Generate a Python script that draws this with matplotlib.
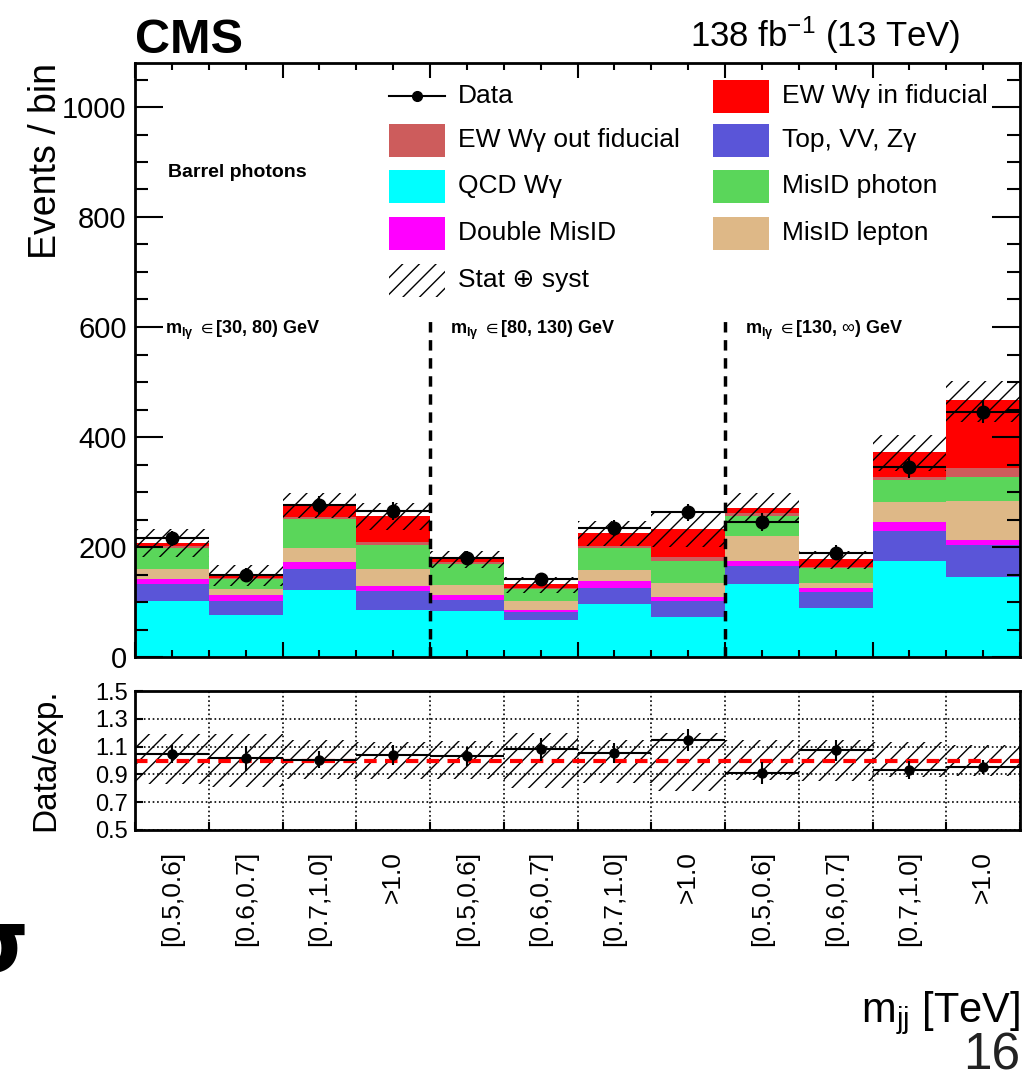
"""EW W-gamma m_jj distribution (barrel photons) with data/expectation ratio."""

import matplotlib
matplotlib.use("Agg")
import matplotlib.pyplot as plt
import numpy as np
from matplotlib.lines import Line2D
from matplotlib.patches import Rectangle
from matplotlib.ticker import MultipleLocator

plt.rcParams["font.family"] = ["Liberation Sans", "DejaVu Sans"]
plt.rcParams["mathtext.fontset"] = "custom"
plt.rcParams["mathtext.rm"] = "Liberation Sans"
plt.rcParams["mathtext.it"] = "Liberation Sans:italic"
plt.rcParams["mathtext.bf"] = "Liberation Sans:bold"
plt.rcParams["mathtext.fallback"] = "stix"
plt.rcParams["hatch.linewidth"] = 1.0

BIN_LABELS = ["[0.5,0.6]", "[0.6,0.7]", "[0.7,1.0]", ">1.0"] * 3
REGION_LABELS = [
    r"$\mathbf{m}_{\mathbf{l\gamma}}\ \in$[30, 80) GeV",
    r"$\mathbf{m}_{\mathbf{l\gamma}}\ \in$[80, 130) GeV",
    r"$\mathbf{m}_{\mathbf{l\gamma}}\ \in$[130, $\infty$) GeV",
]

# stacked backgrounds / signal, bottom to top
qcd_wg = [102, 77, 122, 86, 84, 67, 97, 73, 132, 90, 174, 145]
top_vv_zg = [31, 24, 38, 34, 20, 14, 29, 28, 34, 29, 55, 58]
double_misid = [8, 12, 12, 9, 9, 5, 12, 8, 9, 7, 17, 10]
misid_lepton = [19, 10, 27, 31, 18, 15, 21, 25, 45, 9, 35, 70]
misid_photon = [39, 18, 52, 43, 38, 23, 40, 40, 36, 27, 40, 44]
ew_out_fid = [3, 2, 3, 7, 3, 2, 3, 7, 6, 2, 7, 17]
ew_in_fid = [6, 7, 20, 46, 6, 6, 23, 52, 9, 15, 45, 124]

data = [216, 150, 276, 265, 180, 141, 235, 263, 246, 190, 345, 446]
data_err = [14, 12, 16, 16, 13, 12, 15, 16, 16, 14, 19, 21]

band_lo = [181, 130, 252, 231, 162, 117, 201, 200, 245, 160, 338, 428]
band_hi = [233, 168, 298, 280, 193, 145, 248, 265, 298, 193, 404, 502]

ratio = [1.05, 1.015, 1.005, 1.04, 1.03, 1.08, 1.055, 1.145, 0.91, 1.075, 0.93, 0.955]
ratio_err = [0.065, 0.09, 0.06, 0.07, 0.07, 0.08, 0.07, 0.08, 0.08, 0.075, 0.065, 0.05]
ratio_band_lo = [0.83, 0.81, 0.87, 0.87, 0.87, 0.80, 0.84, 0.78, 0.86, 0.85, 0.88, 0.89]
ratio_band_hi = [1.19, 1.19, 1.15, 1.13, 1.14, 1.20, 1.15, 1.20, 1.15, 1.15, 1.13, 1.11]

STACK = [
    ("QCD Wγ", qcd_wg, "#00ffff"),
    ("Top, VV, Zγ", top_vv_zg, "#5a55d8"),
    ("Double MisID", double_misid, "#ff00ff"),
    ("MisID lepton", misid_lepton, "#deb887"),
    ("MisID photon", misid_photon, "#5ad65a"),
    ("EW Wγ out fiducial", ew_out_fid, "#cd5c5c"),
    ("EW Wγ in fiducial", ew_in_fid, "#ff0000"),
]
COLORS = {name: c for name, _, c in STACK}

W, H = 1026, 1076
fig = plt.figure(figsize=(W / 100, H / 100), dpi=100)
ax = fig.add_axes([135 / W, 1 - 657 / H, 885 / W, 594 / H])
axr = fig.add_axes([135 / W, 1 - 830 / H, 885 / W, 139 / H])

nbins = len(data)
edges = np.arange(nbins + 1)
centers = edges[:-1] + 0.5

# ---- main panel
bottom = np.zeros(nbins)
for name, vals, color in STACK:
    top = bottom + np.asarray(vals, dtype=float)
    ax.stairs(top, edges, baseline=bottom, fill=True, color=color, lw=0)
    bottom = top

ax.stairs(band_hi, edges, baseline=band_lo, fill=True, facecolor="none",
          edgecolor="black", hatch="//", lw=0)
ax.errorbar(centers, data, xerr=0.5, yerr=data_err, fmt="o", color="black",
            ms=9, elinewidth=1.5, capsize=0)

ax.vlines([4, 8], 0, 615, colors="black", linestyles=(0, (3, 2.2)), lw=2.5)

for i, lab in enumerate(REGION_LABELS):
    ax.text(4 * i + (0.41 if i == 0 else 0.27), 594, lab, fontsize=13,
            fontweight="bold", va="center")
ax.text(0.45, 881, "Barrel photons", fontsize=14, fontweight="bold", va="center")

ax.set_xlim(0, nbins)
ax.set_ylim(0, 1080)
ax.xaxis.set_major_locator(MultipleLocator(2))
ax.xaxis.set_minor_locator(MultipleLocator(0.5))
ax.yaxis.set_major_locator(MultipleLocator(200))
ax.yaxis.set_minor_locator(MultipleLocator(50))
ax.tick_params(axis="both", which="both", direction="in", top=True, right=True,
               width=1.5)
ax.tick_params(axis="x", which="major", length=11, labelbottom=False)
ax.tick_params(axis="x", which="minor", length=5)
ax.tick_params(axis="y", which="major", length=20, labelsize=21, pad=6)
ax.tick_params(axis="y", which="minor", length=9.5)
for sp in ax.spines.values():
    sp.set_linewidth(2)

# ---- ratio panel
axr.stairs(ratio_band_hi, edges, baseline=ratio_band_lo, fill=True,
           facecolor="none", edgecolor="black", hatch="//", lw=0)
axr.axhline(1.0, color="red", ls=(0, (3, 2)), lw=3)
axr.errorbar(centers, ratio, xerr=0.5, yerr=ratio_err, fmt="o", color="black",
             ms=6.5, elinewidth=1.5, capsize=0)
axr.set_xlim(0, nbins)
axr.set_ylim(0.5, 1.5)
axr.set_yticks([0.5, 0.7, 0.9, 1.1, 1.3, 1.5])
axr.set_xticks(edges)
axr.set_xticks(centers, labels=BIN_LABELS, minor=True)
axr.grid(True, which="major", ls=":", color="black", lw=1.2)
axr.tick_params(axis="both", which="major", direction="in", width=1.5, length=6)
axr.tick_params(axis="x", which="major", labelbottom=False)
axr.tick_params(axis="y", labelsize=17, pad=5)
axr.tick_params(axis="x", which="minor", length=0, pad=15, labelsize=19,
                labelrotation=90)
for sp in axr.spines.values():
    sp.set_linewidth(2)

# ---- overlay in pixel coordinates: titles, legend, slide remnants
ov = fig.add_axes([0, 0, 1, 1], zorder=10)
ov.set_xlim(0, W)
ov.set_ylim(H, 0)
ov.axis("off")
ov.patch.set_alpha(0)

ov.text(135, 53, "CMS", fontsize=35, fontweight="bold", va="baseline")
ov.text(960, 47, r"138 fb$^{-1}$ (13 TeV)", fontsize=25, ha="right", va="baseline")
ov.text(46, 63, "Events / bin", fontsize=27, rotation=90, ha="center", va="top")
ov.text(46, 760, "Data/exp.", fontsize=24, rotation=90, ha="center", va="center")
ov.text(1020, 1022, r"m$_{\mathrm{jj}}$ [TeV]", fontsize=30, ha="right",
        va="baseline")
ov.text(1020, 1070, "16", fontsize=37, ha="right", va="baseline", color="#222222")
ov.text(28, 972, "σ", fontsize=63, fontweight="bold", ha="right", va="baseline",
        family="DejaVu Sans")

legend_rows = [96, 140, 186, 233, 280]
legend_left = ["Data", "EW Wγ out fiducial", "QCD Wγ", "Double MisID", "Stat ⊕ syst"]
legend_right = ["EW Wγ in fiducial", "Top, VV, Zγ", "MisID photon", "MisID lepton"]
box_w, box_h = 56, 33
for col_x, text_x, labels in [(389, 458, legend_left), (713, 782, legend_right)]:
    for y, lab in zip(legend_rows, labels):
        if lab == "Data":
            ov.add_line(Line2D([col_x, col_x + box_w], [y, y], color="black", lw=1.5))
            ov.plot([col_x + box_w / 2], [y], "o", color="black", ms=7)
        elif lab.startswith("Stat"):
            ov.add_patch(Rectangle((col_x, y - box_h / 2), box_w, box_h,
                                   facecolor="none", edgecolor="black",
                                   hatch="//", lw=0))
        else:
            ov.add_patch(Rectangle((col_x, y - box_h / 2), box_w, box_h,
                                   facecolor=COLORS[lab], lw=0))
        ov.text(text_x, y, lab, fontsize=19, va="center")

fig.savefig("out.png", dpi=100, facecolor="white")
